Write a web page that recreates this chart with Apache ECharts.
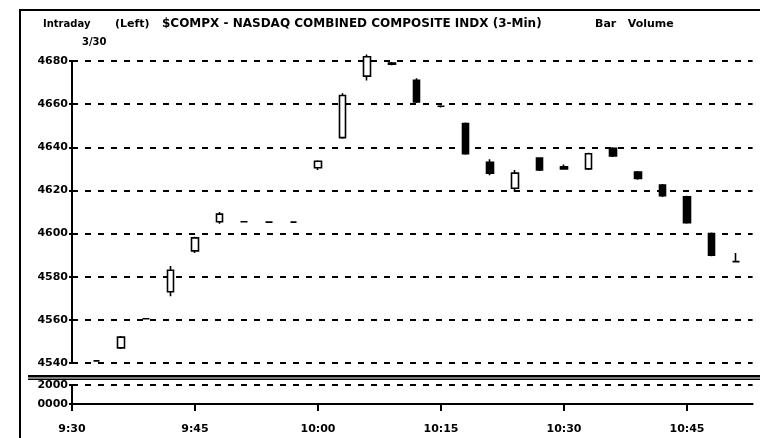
<!DOCTYPE html>
<html>
<head>
<meta charset="utf-8">
<script src="https://cdn.jsdelivr.net/npm/echarts@6/dist/echarts.min.js"></script>
<style>
  html, body { margin: 0; padding: 0; background: #fff; }
  #main { width: 760px; height: 438px; }
</style>
</head>
<body>
<div id="main"></div>
<script>
// 3-min bars, minutes after 9:30
const barTimes = [3, 6, 9, 12, 15, 18, 21, 24, 27, 30, 33, 36, 39, 42, 45, 48, 51, 54, 57, 60, 63, 66, 69, 72, 75, 78, 81];
const openVals  = [4541, 4547, 4560.5, 4573, 4592, 4605.5, 4605.5, 4605.3, 4605.3, 4630.5, 4644.5, 4673, 4679, 4671, 4659, 4651, 4633, 4621, 4635, 4631, 4630, 4639.5, 4628.5, 4622.5, 4617, 4600, 4587];
const closeVals = [4541, 4552, 4560.5, 4583, 4598, 4609, 4605.5, 4605.3, 4605.3, 4633.5, 4664, 4682, 4678.5, 4661, 4659, 4637, 4628, 4628, 4629.5, 4630, 4637, 4636, 4625.5, 4617.5, 4605, 4590, 4587];
const lowVals   = [4541, 4546.5, 4560.5, 4571, 4591, 4604.5, 4605.5, 4605.3, 4605.3, 4629.5, 4644, 4671, 4678, 4660.5, 4658.5, 4636.5, 4627, 4619.5, 4629, 4630, 4629.5, 4635.5, 4625, 4617, 4604.5, 4589.5, 4587];
const highVals  = [4541, 4552.5, 4560.5, 4585, 4598.5, 4610, 4605.5, 4605.3, 4605.3, 4634, 4665, 4683, 4679.5, 4672, 4659.5, 4651.5, 4634.5, 4629.5, 4635, 4632, 4637.5, 4640, 4629, 4623, 4617.5, 4600.5, 4591];

const timeTicks = [0, 15, 30, 45, 60, 75];
const timeLabels = ['9:30', '9:45', '10:00', '10:15', '10:30', '10:45'];

const FONT = 'DejaVu Sans';

let myEcharts = echarts.init(document.getElementById('main'));

let candles = barTimes.map((t, i) => [t, openVals[i], closeVals[i], lowVals[i], highVals[i]]);

let dashed = { show: true, lineStyle: { color: '#000', width: 2, type: [6, 7] } };

let option = {
  backgroundColor: '#fff',
  animation: false,
  title: [
    { text: 'Intraday', left: 38, top: 14, textStyle: { fontFamily: FONT, fontSize: 10, fontWeight: 'bold', color: '#000' } },
    { text: '3/30', left: 77, top: 32, textStyle: { fontFamily: FONT, fontSize: 10, fontWeight: 'bold', color: '#000' } },
    { text: '(Left)', left: 110, top: 14, textStyle: { fontFamily: FONT, fontSize: 11, fontWeight: 'bold', color: '#000' } },
    { text: '$COMPX - NASDAQ COMBINED COMPOSITE INDX (3-Min)', left: 157, top: 13, textStyle: { fontFamily: FONT, fontSize: 12, fontWeight: 'bold', color: '#000' } },
    { text: 'Bar   Volume', left: 590, top: 14, textStyle: { fontFamily: FONT, fontSize: 11, fontWeight: 'bold', color: '#000' } }
  ],
  grid: [
    { left: 72, top: 61, right: 7.4, height: 302 },
    { left: 72, top: 385, right: 7.4, height: 19 }
  ],
  xAxis: [
    { type: 'value', gridIndex: 0, min: 0, max: 83, show: false },
    {
      type: 'value', gridIndex: 1, min: 0, max: 83,
      splitLine: { show: false },
      axisLine: { show: true, lineStyle: { color: '#000', width: 2 } },
      axisTick: { show: true, length: 7, customValues: timeTicks, lineStyle: { color: '#000', width: 2 } },
      axisLabel: {
        customValues: timeTicks,
        margin: 20,
        fontFamily: FONT, fontSize: 11, fontWeight: 'bold', color: '#000',
        formatter: v => timeLabels[timeTicks.indexOf(v)] || ''
      }
    }
  ],
  yAxis: [
    {
      type: 'value', gridIndex: 0, min: 4540, max: 4680, interval: 20,
      splitLine: dashed,
      axisLine: { show: true, lineStyle: { color: '#000', width: 2 } },
      axisTick: { show: true, length: 3, lineStyle: { color: '#000', width: 2 } },
      axisLabel: {
        margin: 4, fontFamily: FONT, fontSize: 11, fontWeight: 'bold', color: '#000',
        formatter: v => String(v)
      }
    },
    {
      type: 'value', gridIndex: 1, min: 0, max: 2000, interval: 2000,
      splitLine: dashed,
      axisLine: { show: true, lineStyle: { color: '#000', width: 2 } },
      axisTick: { show: true, length: 3, lineStyle: { color: '#000', width: 2 } },
      axisLabel: {
        margin: 4, fontFamily: FONT, fontSize: 11, fontWeight: 'bold', color: '#000',
        formatter: v => String(v).padStart(4, '0')
      }
    }
  ],
  series: [
    {
      name: '$COMPX',
      type: 'candlestick',
      xAxisIndex: 0, yAxisIndex: 0,
      clip: false,
      barWidth: 7,
      encode: { x: 0, y: [1, 2, 3, 4] },
      itemStyle: {
        color: '#fff', color0: '#000',
        borderColor: '#000', borderColor0: '#000',
        borderWidth: 1.6
      },
      data: candles
    },
    {
      name: 'Volume',
      type: 'bar',
      xAxisIndex: 1, yAxisIndex: 1,
      data: []
    }
  ],
  graphic: [
    // frame and panel divider
    { type: 'rect', shape: { x: 19, y: 9, width: 741, height: 2 }, style: { fill: '#000' } },
    { type: 'rect', shape: { x: 19, y: 9, width: 2, height: 429 }, style: { fill: '#000' } },
    { type: 'rect', shape: { x: 28, y: 375, width: 732, height: 2.5 }, style: { fill: '#000' } },
    { type: 'rect', shape: { x: 28, y: 378.5, width: 732, height: 1.5 }, style: { fill: '#000' } }
  ]
};

myEcharts.setOption(option);
</script>
</body>
</html>
